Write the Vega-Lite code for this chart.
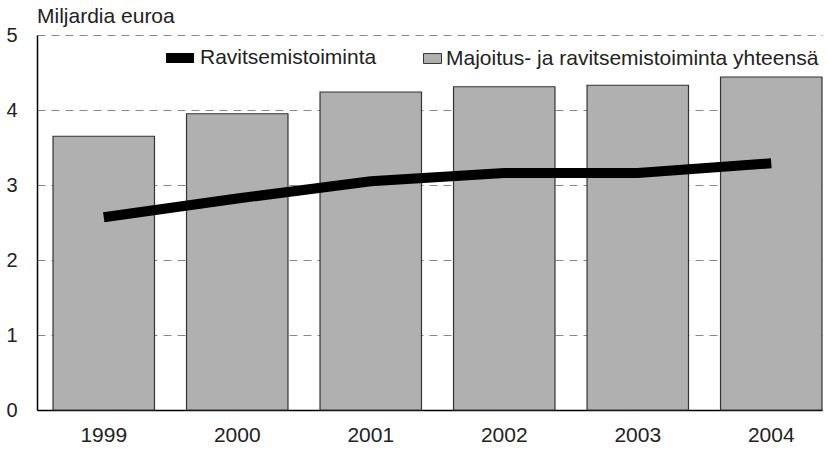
{
  "$schema": "https://vega.github.io/schema/vega-lite/v6.json",
  "width": 785,
  "height": 375,
  "autosize": {"type": "none"},
  "padding": {"left": 37, "top": 35, "right": 6, "bottom": 39},
  "background": "white",
  "title": {"text": "Miljardia euroa", "anchor": "start", "frame": "group", "offset": -2, "fontSize": 21, "font": "Liberation Sans", "fontWeight": "normal", "color": "#222"},
  "data": {
    "values": [
      {"year": "1999", "total": 3.65, "food": 2.57},
      {"year": "2000", "total": 3.95, "food": 2.82},
      {"year": "2001", "total": 4.24, "food": 3.05},
      {"year": "2002", "total": 4.31, "food": 3.16},
      {"year": "2003", "total": 4.33, "food": 3.16},
      {"year": "2004", "total": 4.44, "food": 3.29}
    ]
  },
  "encoding": {
    "x": {"field": "year", "type": "nominal", "scale": {"paddingInner": 0.24, "paddingOuter": 0.06, "align": 1}, "axis": {"title": null, "labelAngle": 0, "ticks": false, "domainColor": "#000", "domainWidth": 1.5, "labelPadding": 14, "labelFontSize": 21, "labelFont": "Liberation Sans", "labelColor": "#222", "grid": false}}
  },
  "layer": [
    {
      "mark": {"type": "bar", "stroke": "#333", "strokeWidth": 1.2},
      "encoding": {
        "y": {"field": "total", "type": "quantitative", "scale": {"domain": [0, 5]}, "axis": {"title": null, "values": [0, 1, 2, 3, 4, 5], "format": "d", "ticks": false, "domainColor": "#000", "domainWidth": 1.5, "labelPadding": 20, "labelFontSize": 20, "labelFont": "Liberation Sans", "labelColor": "#222", "grid": true, "gridDash": [8, 6], "gridColor": "#888", "gridWidth": 1}},
        "fill": {"datum": "Majoitus- ja ravitsemistoiminta yhteensä", "type": "nominal", "scale": {"range": ["#b0b0b0"]}, "legend": {"title": null, "orient": "none", "legendX": 385, "legendY": 13, "symbolType": "M-1,-0.55 L1,-0.55 L1,0.55 L-1,0.55 Z", "symbolSize": 324, "symbolStrokeColor": "#333", "symbolStrokeWidth": 1, "labelFontSize": 21, "labelFont": "Liberation Sans", "labelColor": "#222", "labelOffset": 3, "labelLimit": 0, "padding": 0}}
      }
    },
    {
      "mark": {"type": "line", "strokeWidth": 10, "strokeCap": "butt", "color": "black"},
      "encoding": {
        "y": {"field": "food", "type": "quantitative"},
        "stroke": {"datum": "Ravitsemistoiminta", "type": "nominal", "scale": {"range": ["black"]}, "legend": {"title": null, "orient": "none", "legendX": 124, "legendY": 4, "symbolType": "stroke", "symbolSize": 784, "symbolStrokeWidth": 10, "labelFontSize": 21, "labelFont": "Liberation Sans", "labelColor": "#222", "labelOffset": 1, "labelLimit": 0, "padding": 0}}
      }
    }
  ],
  "config": {"view": {"stroke": null}}
}
